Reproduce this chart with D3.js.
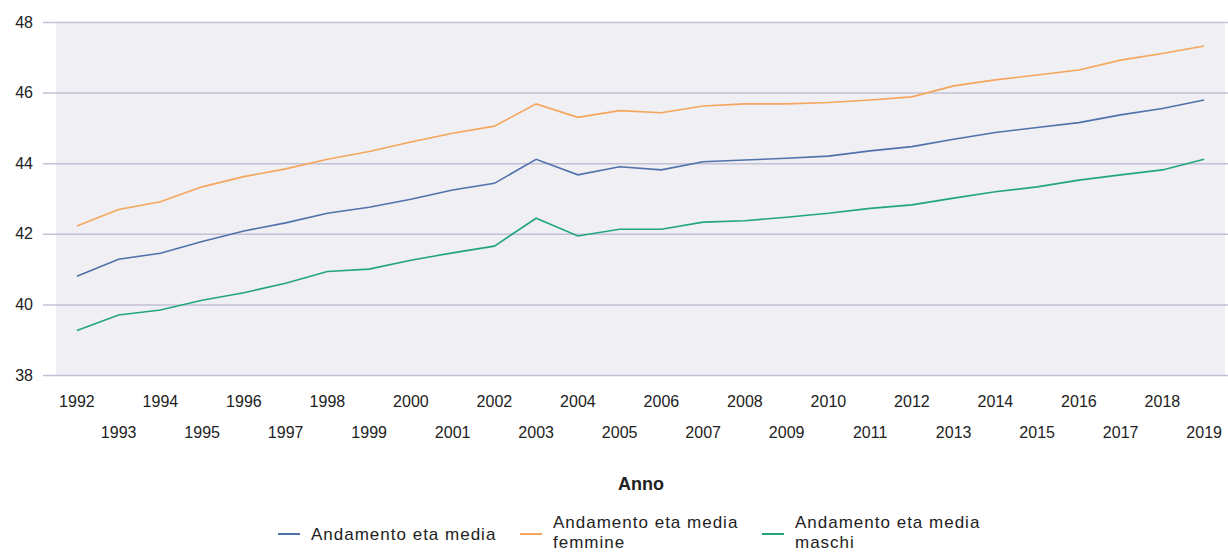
<!DOCTYPE html>
<html>
<head>
<meta charset="utf-8">
<script src="https://cdn.jsdelivr.net/npm/d3@7"></script>
<style>
  body { margin: 0; background: #fff; }
  svg { display: block; font-family: "Liberation Sans", Arial, sans-serif; }
</style>
</head>
<body>
<div id="chart"></div>
<script>
// years on the x axis
const years = d3.range(1992, 2020);

// average age, all residents
const etaMedia = [40.80, 41.28, 41.45, 41.78, 42.08, 42.31, 42.58, 42.75, 42.98, 43.24,
  43.43, 44.11, 43.67, 43.90, 43.81, 44.04, 44.09, 44.14, 44.20, 44.35,
  44.47, 44.68, 44.87, 45.01, 45.15, 45.37, 45.55, 45.79];

// average age, women
const etaFemmine = [42.22, 42.69, 42.91, 43.33, 43.62, 43.84, 44.11, 44.33, 44.60, 44.85,
  45.05, 45.68, 45.30, 45.49, 45.43, 45.62, 45.68, 45.68, 45.72, 45.79,
  45.88, 46.19, 46.36, 46.50, 46.64, 46.92, 47.11, 47.32];

// average age, men
const etaMaschi = [39.26, 39.70, 39.84, 40.12, 40.33, 40.60, 40.93, 41.00, 41.25, 41.46,
  41.65, 42.44, 41.94, 42.13, 42.13, 42.33, 42.37, 42.47, 42.58, 42.72,
  42.82, 43.01, 43.19, 43.33, 43.52, 43.67, 43.81, 44.11];

const yTicks = [38, 40, 42, 44, 46, 48];

const series = [
  { name: ["Andamento eta media"], values: etaMedia, color: "#4f72aa" },
  { name: ["Andamento eta media", "femmine"], values: etaFemmine, color: "#f5a65b" },
  { name: ["Andamento eta media", "maschi"], values: etaMaschi, color: "#22a57f" }
];

const width = 1228, height = 552;
const svg = d3.select("#chart").append("svg")
  .attr("width", width)
  .attr("height", height);

// scales
const x = d3.scaleBand().domain(years).range([56, 1225]);
const y = d3.scaleLinear().domain([38, 48]).range([375, 22]);

// plot background
svg.append("rect")
  .attr("x", 56)
  .attr("y", y(48))
  .attr("width", 1225 - 56)
  .attr("height", y(38) - y(48))
  .attr("fill", "#efeff4");

// horizontal gridlines + y labels
const yAxis = d3.axisLeft(y).tickValues(yTicks).tickSize(0).tickPadding(0);
const gy = svg.append("g").attr("transform", "translate(43,0)").call(yAxis);
gy.select(".domain").remove();
gy.selectAll(".tick line")
  .attr("x2", width - 43)
  .attr("stroke", "#c2c2d4")
  .attr("stroke-width", 1.5);
gy.selectAll(".tick text")
  .attr("x", -10)
  .attr("font-size", 16)
  .attr("fill", "#222")
  .attr("font-family", "Liberation Sans, Arial, sans-serif");

// x tick labels, staggered on two rows
const xAxis = d3.axisBottom(x).tickSize(0).tickPadding(0);
const gx = svg.append("g").attr("transform", "translate(0,375)").call(xAxis);
gx.select(".domain").remove();
gx.selectAll(".tick text")
  .attr("y", (d, i) => i % 2 === 0 ? 27 : 58)
  .attr("dy", "0.32em")
  .attr("font-size", 16)
  .attr("fill", "#222")
  .attr("font-family", "Liberation Sans, Arial, sans-serif");

// axis title
svg.append("text")
  .attr("x", 641)
  .attr("y", 484)
  .attr("dy", "0.35em")
  .attr("text-anchor", "middle")
  .attr("font-size", 18)
  .attr("font-weight", "bold")
  .attr("fill", "#222")
  .text("Anno");

// lines
const line = d3.line()
  .x((d, i) => x(years[i]) + x.bandwidth() / 2)
  .y(d => y(d));

svg.selectAll(".serie")
  .data(series)
  .join("path")
  .attr("class", "serie")
  .attr("d", d => line(d.values))
  .attr("fill", "none")
  .attr("stroke", d => d.color)
  .attr("stroke-width", 1.6);

// legend
const legendX = [278, 520, 762];
const legend = svg.selectAll(".legend")
  .data(series)
  .join("g")
  .attr("class", "legend")
  .attr("transform", (d, i) => `translate(${legendX[i]},534)`);

legend.append("line")
  .attr("x1", 0)
  .attr("x2", 22)
  .attr("stroke", d => d.color)
  .attr("stroke-width", 2);

legend.append("text")
  .attr("x", 33)
  .attr("font-size", 17)
  .attr("letter-spacing", "1px")
  .attr("fill", "#222")
  .selectAll("tspan")
  .data(d => d.name.map((t, k) => ({ t, k, n: d.name.length })))
  .join("tspan")
  .attr("x", 33)
  .attr("y", d => d.n === 1 ? 0 : (d.k === 0 ? -12 : 8))
  .attr("dy", "0.35em")
  .text(d => d.t);
</script>
</body>
</html>
